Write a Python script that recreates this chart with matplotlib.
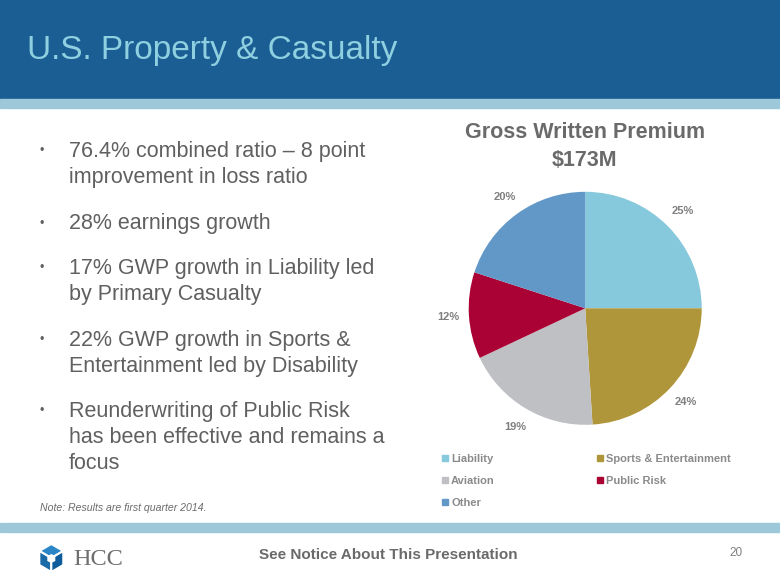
import matplotlib.pyplot as plt
from matplotlib.patches import Rectangle, Polygon

# data
segments = ["Liability", "Sports & Entertainment", "Aviation", "Public Risk", "Other"]
shares = [25, 24, 19, 12, 20]
colors = ["#86C8DC", "#B0963A", "#BFC0C4", "#AA0234", "#6298C7"]

bullets = [
    "76.4% combined ratio \u2013 8 point\nimprovement in loss ratio",
    "28% earnings growth",
    "17% GWP growth in Liability led\nby Primary Casualty",
    "22% GWP growth in Sports &\nEntertainment led by Disability",
    "Reunderwriting of Public Risk\nhas been effective and remains a\nfocus",
]
bullet_base = [156.7, 229, 274, 346, 416.7]   # baseline of first line, px

plt.rcParams['font.family'] = ['Liberation Sans', 'DejaVu Sans']

W, H = 780, 585
fig = plt.figure(figsize=(7.8, 5.85), dpi=100)

# decoration axes in pixel coords (y down)
bg = fig.add_axes([0, 0, 1, 1])
bg.set_xlim(0, W)
bg.set_ylim(H, 0)
bg.axis('off')

bg.add_patch(Rectangle((0, 0), W, 99, color="#1A5E94", zorder=0))
bg.add_patch(Rectangle((0, 99), W, 9, color="#9CC8D9", zorder=0))
bg.add_patch(Rectangle((0, 523), W, 9, color="#9CC8D9", zorder=0))

bg.text(27, 51, "U.S. Property & Casualty", color="#8ECFE0", fontsize=24,
        va='center', ha='left')

grey = "#606060"
line_step = 26.3
for txt, yb in zip(bullets, bullet_base):
    bg.text(41.7, yb - 5.5, "\u2022", color=grey, fontsize=9, va='center', ha='center')
    for k, line in enumerate(txt.split("\n")):
        bg.text(69, yb + k * line_step, line, color=grey, fontsize=15.5,
                va='baseline', ha='left')

bg.text(40, 508, "Note: Results are first quarter 2014.", color="#6A6A6A",
        fontsize=7.6, style='italic', va='center', ha='left')

# footer
bg.text(388, 555, "See Notice About This Presentation", color="#6A6A6A",
        fontsize=11, fontweight='bold', va='center', ha='center')
bg.text(735.5, 553, "20", color="#808080", fontsize=8.5, va='center', ha='center')

# HCC logo (cube)
lx0, ly0, hw, hh = 51.3, 558, 12, 14
top = (lx0, ly0 - hh)
ur, lr = (lx0 + hw, ly0 - hh / 2), (lx0 + hw, ly0 + hh / 2)
bot = (lx0, ly0 + hh)
ll, ul = (lx0 - hw, ly0 + hh / 2), (lx0 - hw, ly0 - hh / 2)
ctr = (lx0, ly0)
bg.add_patch(Polygon([top, ur, ctr, ul], facecolor="#2A86C6", edgecolor="white", lw=1.5))
bg.add_patch(Polygon([ul, ctr, bot, ll], facecolor="#1B6AA8", edgecolor="white", lw=1.5))
bg.add_patch(Polygon([ur, lr, bot, ctr], facecolor="#0F5C9C", edgecolor="white", lw=1.5))
bg.add_patch(Polygon([(lx0 - 4, ly0 - 2), (lx0, ly0 - 4), (lx0 + 4, ly0 - 2),
                      (lx0 + 4, ly0 + 3), (lx0, ly0 + 5), (lx0 - 4, ly0 + 3)],
                     facecolor="white", edgecolor="none"))
bg.text(73, 565, "HCC", family='Liberation Serif', color="#6E6E6E",
        fontsize=17.5, va='baseline', ha='left')

# chart title
bg.text(585, 132, "Gross Written Premium", color="#6A6A6A", fontsize=15.5,
        fontweight='bold', va='center', ha='center')
bg.text(585, 160, "$173M", color="#6A6A6A", fontsize=15.5,
        fontweight='bold', va='center', ha='center')

# pie
cx, cy, r = 585.2, 308.3, 116.5
ax = fig.add_axes([(cx - r) / W, (H - cy - r) / H, 2 * r / W, 2 * r / H])
wedges, texts, autotexts = ax.pie(
    shares, colors=colors, startangle=90, counterclock=False,
    autopct='%d%%', pctdistance=1.18, radius=1,
    textprops=dict(color="#7F7F7F", fontsize=8, fontweight='bold'))
ax.set_xlim(-1, 1)
ax.set_ylim(-1, 1)
ax.axis('off')

# legend, row-wise in two columns
for i, (lab, col) in enumerate(zip(segments, colors)):
    lx = 441.5 if i % 2 == 0 else 596.5
    ly = 457.5 + 22.4 * (i // 2)
    bg.add_patch(Rectangle((lx, ly - 3), 6, 6, color=col))
    bg.text(lx + 9.5, ly, lab, color="#8A8A8A", fontsize=8, fontweight='bold',
            va='center_baseline', ha='left')

fig.savefig("out.png", dpi=100)
